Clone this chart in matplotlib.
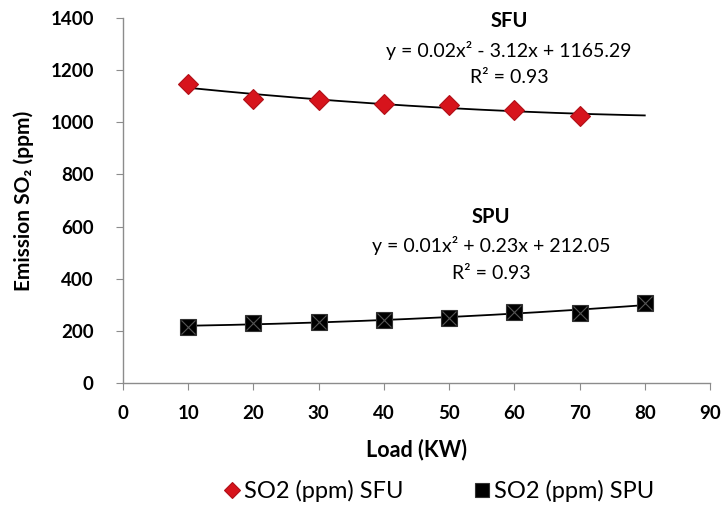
import numpy as np
import matplotlib
matplotlib.use("Agg")
import matplotlib.pyplot as plt

plt.rcParams['font.family'] = ['Lato', 'DejaVu Sans']

load_sfu = [10, 20, 30, 40, 50, 60, 70]
so2_sfu = [1145, 1090, 1085, 1070, 1065, 1048, 1025]
load_spu = [10, 20, 30, 40, 50, 60, 70, 80]
so2_spu = [215, 230, 235, 242, 248, 273, 270, 305]

x_ticks = [0, 10, 20, 30, 40, 50, 60, 70, 80, 90]
y_ticks = [0, 200, 400, 600, 800, 1000, 1200, 1400]

fig = plt.figure(figsize=(7.24, 5.09), dpi=100)
ax = fig.add_axes([123/724, 1-383/509, (710-123)/724, (383-18)/509])

# trend lines (2nd order polynomial fits)
for xs, ys in [(load_sfu, so2_sfu), (load_spu, so2_spu)]:
    c = np.polyfit(xs, ys, 2)
    xx = np.linspace(10, 80, 200)
    ax.plot(xx, np.polyval(c, xx), color='black', lw=1.3, zorder=2)

ax.plot(load_sfu, so2_sfu, linestyle='none', marker='D', ms=10,
        color='#d7141c', mec='#b01018', mew=0.8, zorder=3, label='SO2 (ppm) SFU')
ax.plot(load_spu, so2_spu, linestyle='none', marker='s', ms=12,
        color='black', mec='#333333', mew=0.8, zorder=3, label='SO2 (ppm) SPU')
ax.plot(load_spu, so2_spu, linestyle='none', marker='x', ms=10,
        color='#555555', mew=0.8, zorder=4)

ax.set_xlim(0, 90)
ax.set_ylim(0, 1400)
ax.set_xticks(x_ticks)
ax.set_yticks(y_ticks)
ax.set_xticklabels([str(t) for t in x_ticks], fontweight='bold', fontsize=13.5)
ax.set_yticklabels([str(t) for t in y_ticks], fontweight='bold', fontsize=13.5)

for s in ['top', 'right']:
    ax.spines[s].set_visible(False)
for s in ['left', 'bottom']:
    ax.spines[s].set_color('#8c8c8c')
    ax.spines[s].set_linewidth(1.0)
ax.tick_params(axis='y', direction='out', length=5, color='#8c8c8c', pad=16)
ax.tick_params(axis='x', direction='out', length=5, color='#8c8c8c', pad=11)

ax.set_xlabel('Load (KW)', fontweight='bold', fontsize=15.5, labelpad=12)
ax.set_ylabel('Emission SO\u2082 (ppm)', fontweight='bold', fontsize=15, labelpad=12)

ax.text(0.658, 0.992, 'SFU', transform=ax.transAxes, ha='center', va='center',
        fontweight='bold', fontsize=14.5)
ax.text(0.658, 0.912, 'y = 0.02x\u00b2 - 3.12x + 1165.29', transform=ax.transAxes,
        ha='center', va='center', fontsize=14)
ax.text(0.658, 0.838, 'R\u00b2 = 0.93', transform=ax.transAxes,
        ha='center', va='center', fontsize=14)

ax.text(0.627, 0.455, 'SPU', transform=ax.transAxes, ha='center', va='center',
        fontweight='bold', fontsize=14.5)
ax.text(0.627, 0.378, 'y = 0.01x\u00b2 + 0.23x + 212.05', transform=ax.transAxes,
        ha='center', va='center', fontsize=14)
ax.text(0.627, 0.301, 'R\u00b2 = 0.93', transform=ax.transAxes,
        ha='center', va='center', fontsize=14)

handles, labels = ax.get_legend_handles_labels()
fig.legend(handles, labels, loc='center', bbox_to_anchor=(438/724, 1-491/509),
           ncol=2, frameon=False, fontsize=17, handletextpad=0.05,
           columnspacing=2.9, handlelength=0.9, markerscale=0.85)

fig.savefig('out.png', dpi=100)
